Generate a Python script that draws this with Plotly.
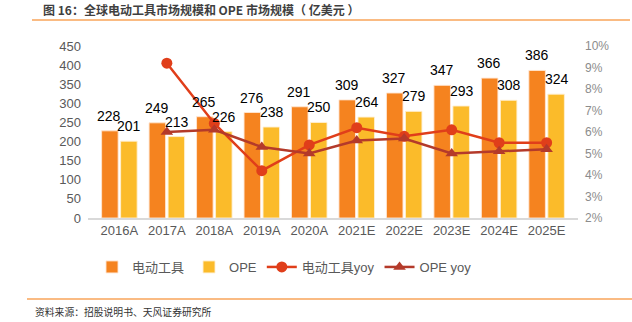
import plotly.graph_objects as go

years = ["2016A", "2017A", "2018A", "2019A", "2020A", "2021E", "2022E", "2023E", "2024E", "2025E"]
power_tools = [228, 249, 265, 276, 291, 309, 327, 347, 366, 386]
ope = [201, 213, 226, 238, 250, 264, 279, 293, 308, 324]
power_tools_yoy = [None, 0.092, 0.064, 0.042, 0.054, 0.062, 0.058, 0.061, 0.055, 0.055]
ope_yoy = [None, 0.060, 0.061, 0.053, 0.050, 0.056, 0.057, 0.050, 0.051, 0.052]

C_PT = "#F5831F"
C_OPE = "#FBBB2A"
C_PT_YOY = "#E03E1A"
C_OPE_YOY = "#B43A2A"

FONT = "Liberation Sans, Arial, Noto Sans CJK SC, sans-serif"
CJK = "Noto Sans CJK SC, sans-serif"

fig = go.Figure()
fig.add_trace(go.Bar(
    x=years, y=power_tools, name="电动工具",
    marker=dict(color=C_PT, line=dict(color="rgba(255,230,210,0.9)", width=1)),
))
fig.add_trace(go.Bar(
    x=years, y=ope, name="OPE",
    marker=dict(color=C_OPE, line=dict(color="rgba(255,240,210,0.9)", width=1)),
))
fig.add_trace(go.Scatter(
    x=years, y=power_tools_yoy, name="电动工具yoy", yaxis="y2",
    mode="lines+markers", line=dict(color=C_PT_YOY, width=2.5),
    marker=dict(symbol="circle", size=11, color=C_PT_YOY), cliponaxis=False,
))
fig.add_trace(go.Scatter(
    x=years, y=ope_yoy, name="OPE yoy", yaxis="y2",
    mode="lines+markers", line=dict(color=C_OPE_YOY, width=2.5),
    marker=dict(symbol="triangle-up", size=11, color=C_OPE_YOY), cliponaxis=False,
))

L, R, T, B = 88, 54, 46, 104
W, H = 632, 322
pw, ph = W - L - R, H - T - B

def px_x(px):
    return (px - L) / pw

def px_y(py):
    return (H - B - py) / ph

annotations = []
for yr, v in zip(years, power_tools):
    annotations.append(dict(x=yr, y=v, xref="x", yref="y", text=str(v), showarrow=False,
                            xanchor="center", yanchor="bottom", xshift=-10, yshift=5,
                            font=dict(size=14, color="#000000", family=FONT)))
for yr, v in zip(years, ope):
    annotations.append(dict(x=yr, y=v, xref="x", yref="y", text=str(v), showarrow=False,
                            xanchor="center", yanchor="bottom", xshift=10, yshift=5,
                            font=dict(size=14, color="#000000", family=FONT)))

annotations += [
    dict(text="<b>图 16：全球电动工具市场规模和 OPE 市场规模（ 亿美元 ）</b>",
         xref="paper", yref="paper", x=px_x(41), y=px_y(9), xanchor="left", yanchor="middle",
         showarrow=False, font=dict(family=CJK, size=12, color="#3F3F3F")),
    dict(text="资料来源：招股说明书、天风证券研究所",
         xref="paper", yref="paper", x=px_x(33), y=px_y(312), xanchor="left", yanchor="middle",
         showarrow=False, font=dict(family=CJK, size=9.8, color="#333333")),
]

fig.update_layout(
    width=W, height=H,
    margin=dict(l=L, r=R, t=T, b=B),
    paper_bgcolor="white", plot_bgcolor="white",
    barmode="group", bargap=0.2, bargroupgap=0.13,
    font=dict(family=FONT, color="#595959", size=13),
    xaxis=dict(
        type="category", showgrid=False, showline=True, linecolor="#D9D9D9", linewidth=1.5,
        ticks="", tickfont=dict(size=13, color="#595959"),
    ),
    yaxis=dict(
        range=[0, 450], dtick=50, showgrid=False, zeroline=False, showline=False,
        tickfont=dict(size=13, color="#595959"), ticks="", ticklabelstandoff=6,
    ),
    yaxis2=dict(
        overlaying="y", side="right", range=[0.02, 0.10], dtick=0.01, tickformat=".0%",
        showgrid=False, zeroline=False, showline=False,
        tickfont=dict(size=12, color="#8C8C8C"), ticks="", ticklabelstandoff=6,
    ),
    showlegend=True,
    legend=dict(
        orientation="h", x=px_x(92), xanchor="left", y=px_y(267), yanchor="middle",
        font=dict(size=13, color="#595959", family=FONT), bgcolor="rgba(0,0,0,0)",
        traceorder="normal", itemwidth=30,
    ),
    shapes=[
        dict(type="line", xref="paper", yref="paper", x0=px_x(32), x1=px_x(630),
             y0=px_y(20), y1=px_y(20), line=dict(color="#F9A55A", width=1.5)),
        dict(type="line", xref="paper", yref="paper", x0=px_x(27), x1=px_x(632),
             y0=px_y(299), y1=px_y(299), line=dict(color="#F9A55A", width=1.5)),
    ],
    annotations=annotations,
)

fig.write_html("out.html")
